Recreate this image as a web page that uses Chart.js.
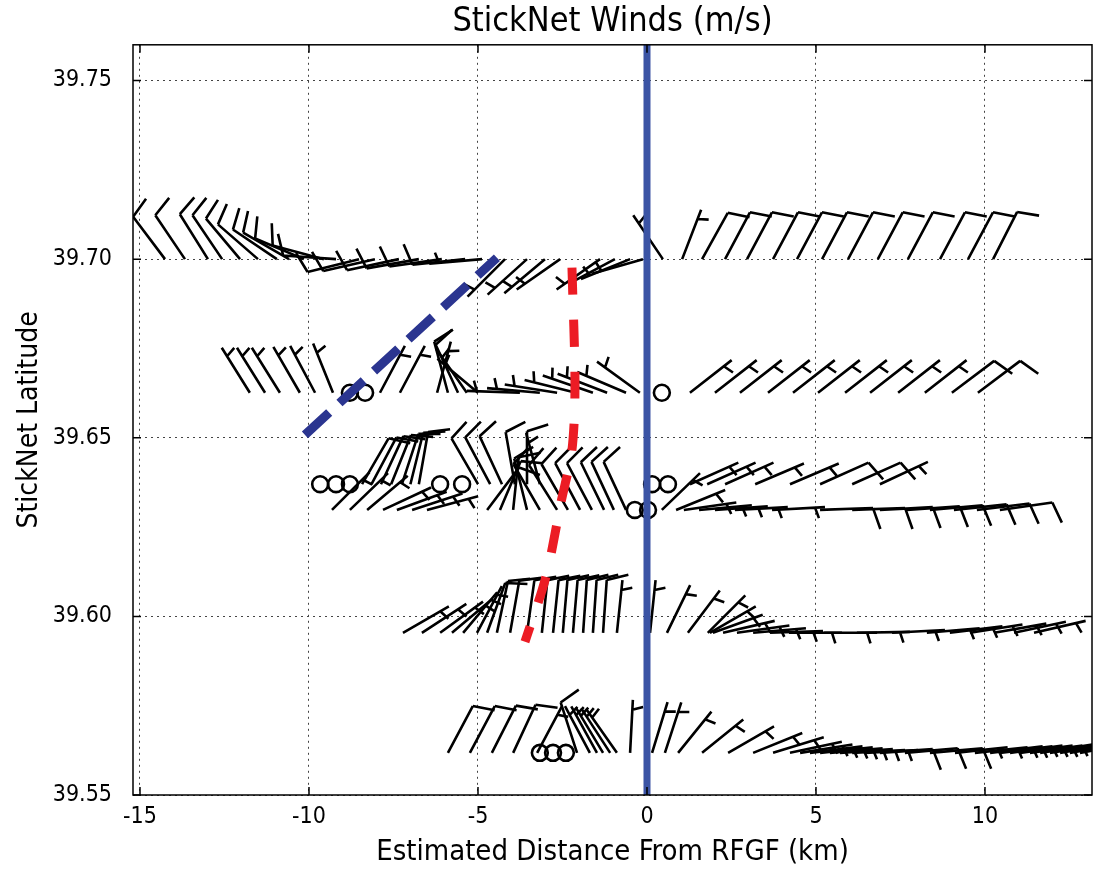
<!DOCTYPE html>
<html><head><meta charset="utf-8">
<script src="https://cdn.jsdelivr.net/npm/chart.js@4.4.1/dist/chart.umd.min.js"></script>
<style>html,body{margin:0;padding:0;background:#fff;}#wrap{width:1095px;height:871px;}</style>
</head><body><div id="wrap"><canvas id="c" width="1095" height="871"></canvas></div>
<script>
// ---- axis ticks ----
const xTickValues = [-15, -10, -5, 0, 5, 10];
const xTickLabels = ['-15', '-10', '-5', '0', '5', '10'];
const yTickValues = [39.55, 39.60, 39.65, 39.70, 39.75];
const yTickLabels = ['39.55', '39.60', '39.65', '39.70', '39.75'];

// ---- StickNet probe latitudes (one per transect) ----
const trackLat = [39.700, 39.6626, 39.637, 39.6298, 39.5954, 39.5618];

// ---- winds: x = estimated distance (km), dir = direction wind is from (deg), spd = m/s ----
const r1x   = [-14.26,-13.67,-12.99,-12.57,-12.04,-11.51,-10.95,-10.59,-10.15,-9.56,-9.20,-8.52,-8.05,-7.34,-6.75,-6.07,-5.38,-4.88,-4.20,-3.55,-3.02,-2.57,-1.39,-0.95,-0.50,-0.12,0.47,1.04,1.63,2.31,2.96,3.73,4.44,5.18,5.95,6.83,7.72,8.67,9.50,10.24];
const r1dir = [323,326,328,326,320,311,304,300,293,285,274,256,257,258,260,262,264,265,225,228,230,235,235,242,248,254,326,21,29,28,28,28,28,28,28,28,28,28,28,27];
const r1spd = [10,10,10,10,10,10,10,10,10,10,10,10,10,10,10,10,10,5,5,5,5,5,5,5,5,5,5,5,10,10,10,10,10,10,10,10,10,10,10,10];

const r2x   = [-11.75,-11.30,-10.86,-10.27,-9.82,-9.29,-8.79,-8.34,-7.90,-7.31,-6.21,-5.89,-5.59,-5.33,-5.00,-3.76,-3.17,-2.66,-2.10,-1.60,-1.18,-0.62,-0.21,0.44,1.27,2.01,2.75,3.58,4.32,5.06,5.86,6.60,7.43,8.22,9.02,9.79];
const r2dir = [328,328,328,330,332,338,0,0,28,28,15,345,335,325,310,272,275,279,284,289,291,293,306,0,52,52,52,52,52,52,52,52,52,52,53,53];
const r2spd = [5,5,5,5,5,5,0,0,5,5,5,10,10,5,5,5,5,5,5,5,5,5,5,0,5,5,5,5,5,5,5,5,5,5,10,10];

const r3x   = [-9.67,-9.20,-8.79,-8.43,-8.15,-7.87,-7.57,-7.25,-7.00,-6.75,-6.12,-5.47,-5.00,-4.64,-4.29,-3.91,-3.55,-3.17,0.15,0.62,1.27,1.78,2.31,3.20,4.23,5.12,6.07,6.89];
const r3dir = [0,0,0,30,28,25,22,18,14,10,0,0,330,332,335,350,0,345,0,0,66,66,66,67,67,66,66,65];
const r3spd = [0,0,0,10,10,10,10,10,10,10,0,0,10,10,10,10,10,5,0,0,5,5,5,5,5,10,10,5];

const r4x   = [-9.32,-8.79,-8.28,-7.81,-7.40,-6.95,-6.51,-4.73,-4.35,-3.96,-3.55,-3.17,-2.66,-2.34,-1.98,-1.63,-1.27,-0.98,-0.62,-0.36,0.03,0.44,0.86,1.09,1.54,2.01,2.60,3.70,5.12,6.07,6.89,7.69,8.37,9.08,9.76,10.44];
const r4dir = [45,46,50,65,70,72,75,37,23,6,346,330,328,330,332,332,334,335,335,0,0,46,68,82,85,86,87,87,88,88,87,86,85,84,83,82];
const r4spd = [5,5,5,5,5,5,5,10,10,10,10,10,10,10,10,10,10,10,10,0,0,5,5,5,5,5,5,5,10,10,10,10,10,10,10,10];

const r5x   = [-7.22,-6.66,-6.12,-5.77,-5.44,-5.03,-4.73,-4.44,-4.05,-3.55,-3.11,-2.78,-2.49,-2.19,-1.89,-1.60,-1.30,-0.89,0.09,0.59,1.21,1.80,1.86,1.95,2.25,2.66,3.14,3.64,4.20,5.24,6.21,7.25,8.28,8.96,9.56,10.27,10.86,11.45];
const r5dir = [60,57,54,50,40,28,20,12,10,8,6,6,5,5,4,4,4,6,6,26,37,45,60,70,77,82,85,88,90,90,89,87,85,83,81,80,78,77];
const r5spd = [5,5,5,5,5,5,10,10,10,10,10,10,10,10,10,10,10,5,5,5,5,5,5,5,5,5,5,5,5,5,5,5,5,5,5,5,5,5];

const r6x   = [-5.89,-5.24,-4.59,-3.96,-3.25,-3.17,-2.78,-2.40,-2.07,-1.69,-1.48,-1.30,-1.09,-0.89,-0.50,0.15,0.53,0.92,1.63,2.40,3.14,3.73,4.23,4.53,4.82,5.12,5.41,5.71,6.07,6.45,6.89,7.63,8.37,9.11,9.70,10.15,10.44,10.74,11.04,11.33,11.63,11.92,12.22,12.51,12.81];
const r6dir = [28,28,27,25,28,0,0,0,342,332,331,329,327,325,3,17,18,39,51,60,68,73,78,81,83,84,85,86,87,87,86,85,85,84,84,83,83,82,82,82,81,81,80,80,80];
const r6spd = [10,10,10,10,5,0,0,0,10,5,5,5,5,5,5,5,5,5,5,5,5,5,5,5,5,5,5,5,5,5,10,10,10,5,5,5,5,5,5,5,5,5,5,5,5];

const windX   = [r1x, r2x, r3x, r4x, r5x, r6x];
const windDir = [r1dir, r2dir, r3dir, r4dir, r5dir, r6dir];
const windSpd = [r1spd, r2spd, r3spd, r4spd, r5spd, r6spd];

// ---- analysis lines ----
const rfgfX = [0, 0];
const rfgfY = [39.55, 39.76];
const blueDashX = [-10.12, -4.44];
const blueDashY = [39.6508, 39.7004];
const redDashX = [-2.22, -2.13, -2.22, -2.54, -2.99, -3.61];
const redDashY = [39.6976, 39.6648, 39.6466, 39.6321, 39.6111, 39.5929];

const FONT = "'DejaVu Sans Condensed', 'DejaVu Sans'";
const BARB_LEN = 53;

function drawBarb(ctx, px, py, spd, dir) {
  const L = BARB_LEN, sp = 0.125 * L, fh = 0.4 * L, fw = 0.25 * L;
  let mag = 5 * Math.round(spd / 5);
  const nflag = Math.floor(mag / 50); mag -= nflag * 50;
  const nbarb = Math.floor(mag / 10); mag -= nbarb * 10;
  const half = mag >= 5;
  if (!nflag && !nbarb && !half) {
    ctx.beginPath(); ctx.arc(px, py, 0.15 * L, 0, Math.PI * 2); ctx.stroke(); return;
  }
  const th = (90 - dir) * Math.PI / 180;
  const ax = Math.cos(th), ay = -Math.sin(th);
  const cx = Math.sin(th), cy = Math.cos(th);
  const P = (a, b) => [px + a * cx + b * ax, py + a * cy + b * ay];
  ctx.beginPath();
  let p = P(0, 0); ctx.moveTo(p[0], p[1]);
  p = P(0, L); ctx.lineTo(p[0], p[1]);
  let off = L;
  for (let i = 0; i < nflag; i++) {
    const a = P(0, off), b = P(fh, off - fw / 2), c = P(0, off - fw);
    ctx.moveTo(a[0], a[1]); ctx.lineTo(b[0], b[1]); ctx.lineTo(c[0], c[1]);
    off -= fw + sp;
  }
  for (let i = 0; i < nbarb; i++) {
    const a = P(0, off), b = P(fh, off + fw / 2);
    ctx.moveTo(a[0], a[1]); ctx.lineTo(b[0], b[1]);
    off -= sp;
  }
  if (half) {
    if (off === L) off -= 1.5 * sp;
    const a = P(0, off), b = P(fh / 2, off + fw / 4);
    ctx.moveTo(a[0], a[1]); ctx.lineTo(b[0], b[1]);
  }
  ctx.stroke();
}

const barbPlugin = {
  id: 'barbs',
  beforeDatasetsDraw(chart) {
    const ctx = chart.ctx, a = chart.chartArea;
    ctx.save();
    ctx.beginPath(); ctx.rect(a.left, a.top, a.right - a.left, a.bottom - a.top); ctx.clip();
    ctx.strokeStyle = '#000'; ctx.lineWidth = 2.6; ctx.lineJoin = 'miter'; ctx.lineCap = 'butt';
    chart.data.datasets.forEach((ds, i) => {
      if (ds.barbTrack === undefined) return;
      const meta = chart.getDatasetMeta(i);
      const dirs = windDir[ds.barbTrack], spds = windSpd[ds.barbTrack];
      meta.data.forEach((el, j) => drawBarb(ctx, el.x, el.y, spds[j], dirs[j]));
    });
    ctx.restore();
  }
};

const framePlugin = {
  id: 'frame',
  afterDraw(chart) {
    const ctx = chart.ctx, a = chart.chartArea, sx = chart.scales.x, sy = chart.scales.y;
    ctx.save();
    ctx.strokeStyle = '#000'; ctx.lineWidth = 1.5; ctx.setLineDash([]);
    ctx.strokeRect(a.left, a.top, a.right - a.left, a.bottom - a.top);
    ctx.beginPath();
    xTickValues.forEach(v => {
      const x = sx.getPixelForValue(v);
      ctx.moveTo(x, a.bottom); ctx.lineTo(x, a.bottom - 8);
      ctx.moveTo(x, a.top); ctx.lineTo(x, a.top + 8);
    });
    yTickValues.forEach(v => {
      const y = sy.getPixelForValue(v);
      ctx.moveTo(a.left, y); ctx.lineTo(a.left + 8, y);
      ctx.moveTo(a.right, y); ctx.lineTo(a.right - 8, y);
    });
    ctx.stroke();
    ctx.restore();
  }
};

const pts = (xs, ys) => xs.map((x, i) => ({ x: x, y: ys[i] }));

const datasets = [
  { type: 'line', label: 'RFGF', data: pts(rfgfX, rfgfY), borderColor: '#3b54a5', borderWidth: 7, pointRadius: 0, fill: false },
  { type: 'line', label: 'blue dashed', data: pts(blueDashX, blueDashY), borderColor: '#2b3590', borderWidth: 9, borderDash: [33, 14], borderCapStyle: 'butt', pointRadius: 0, fill: false },
  { type: 'line', label: 'red dashed', data: pts(redDashX, redDashY), borderColor: '#ec1c24', borderWidth: 9, borderDash: [27, 25], borderCapStyle: 'butt', pointRadius: 0, fill: false, tension: 0.3 }
];
windX.forEach((xs, t) => {
  datasets.push({ type: 'scatter', label: 'probe ' + (t + 1), barbTrack: t, data: xs.map(x => ({ x: x, y: trackLat[t] })), pointRadius: 0, pointHoverRadius: 0 });
});

new Chart(document.getElementById('c'), {
  data: { datasets },
  plugins: [barbPlugin, framePlugin],
  options: {
    responsive: false, animation: false, devicePixelRatio: 1,
    layout: { padding: { left: 0, right: 3, top: 0, bottom: 0 } },
    plugins: {
      legend: { display: false }, tooltip: { enabled: false },
      title: { display: true, text: 'StickNet Winds (m/s)', fullSize: false, color: '#000',
        font: { family: FONT, size: 34, weight: 'normal' }, padding: { top: 2, bottom: 2 } }
    },
    scales: {
      x: {
        type: 'linear', min: -15.207, max: 13.166,
        afterBuildTicks: s => { s.ticks = xTickValues.map(v => ({ value: v })); },
        afterFit: s => { s.height = 76; },
        ticks: { callback: (v, i) => xTickLabels[i], color: '#000', font: { family: FONT, size: 23 }, padding: 8, maxRotation: 0, autoSkip: false },
        grid: { color: '#444', lineWidth: 1, drawTicks: false },
        border: { display: false, dash: [2, 4] },
        title: { display: true, text: 'Estimated Distance From RFGF (km)', color: '#000', font: { family: FONT, size: 29 }, padding: { top: 0, bottom: 1 } }
      },
      y: {
        type: 'linear', min: 39.55, max: 39.76,
        afterBuildTicks: s => { s.ticks = yTickValues.map(v => ({ value: v })); },
        afterFit: s => { s.width = 133; },
        ticks: { callback: (v, i) => yTickLabels[i], color: '#000', font: { family: FONT, size: 23 }, padding: 21, autoSkip: false },
        grid: { color: '#444', lineWidth: 1, drawTicks: false },
        border: { display: false, dash: [2, 4] },
        title: { display: true, text: 'StickNet Latitude', color: '#000', font: { family: FONT, size: 28 }, padding: { top: 13, bottom: 0 } }
      }
    }
  }
});
</script></body></html>
